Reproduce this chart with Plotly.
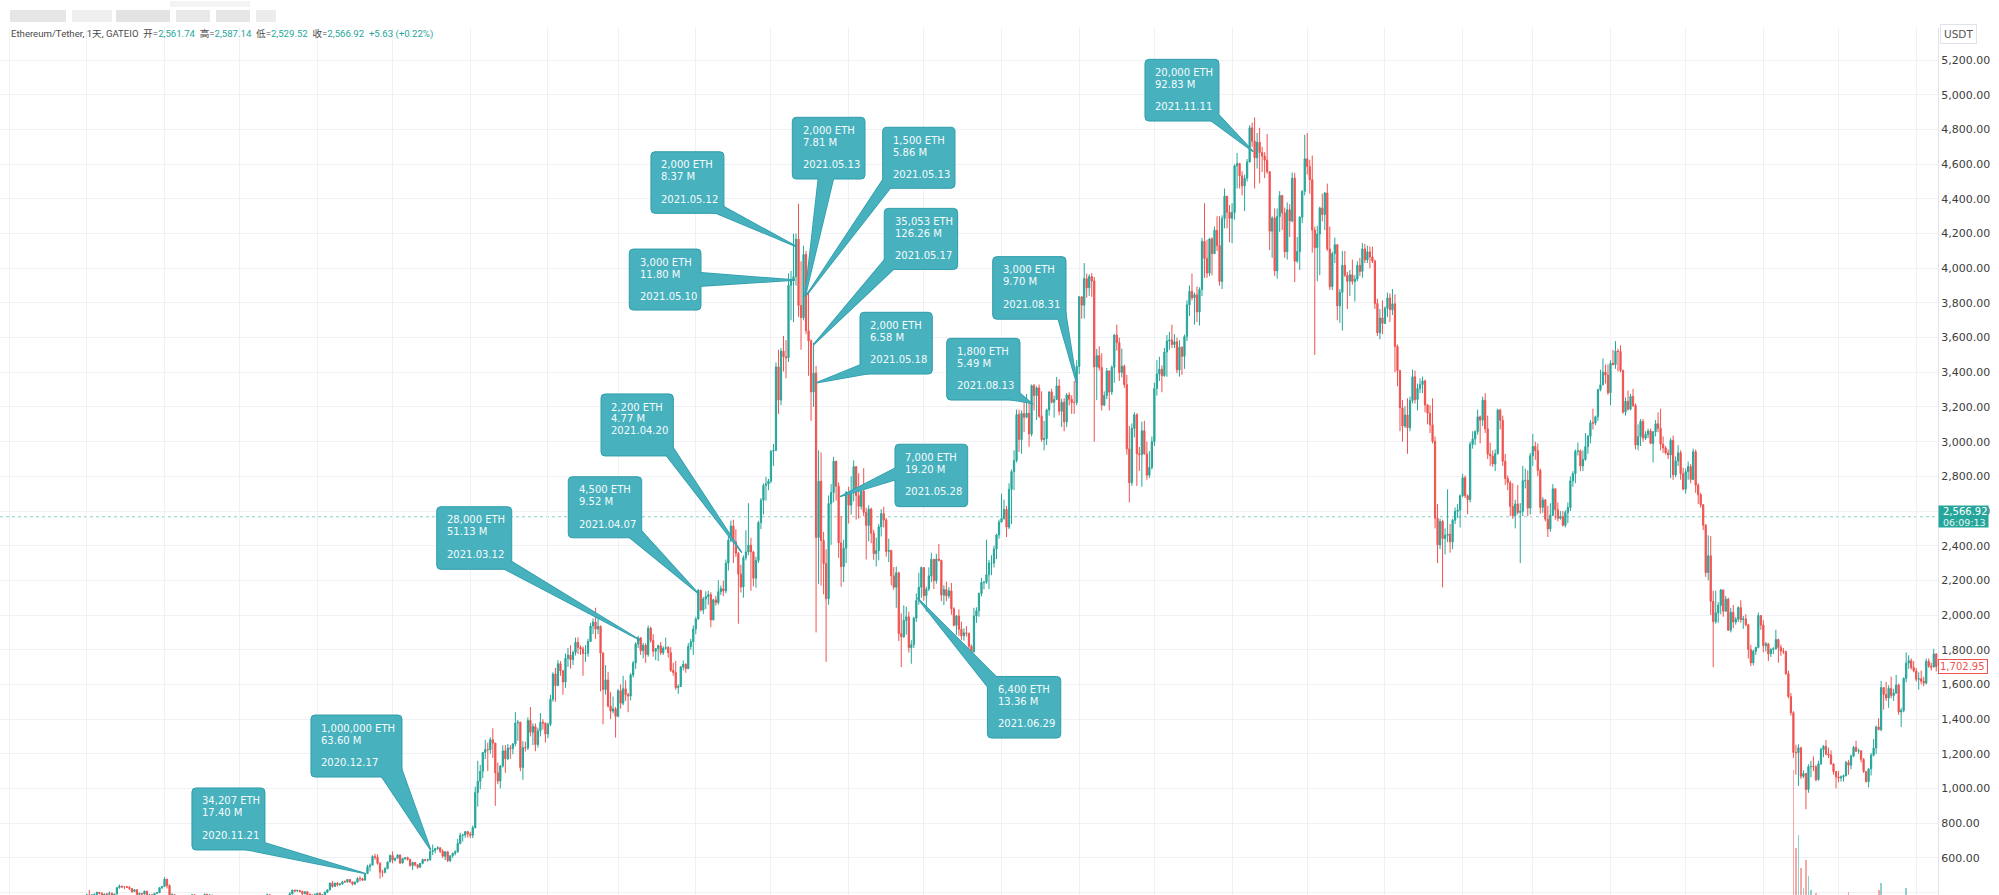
import pandas as pd
import plotly.graph_objects as go

# ============================ DATA ============================
# Daily ETH/USDT candles (GATEIO, 1D). Open = previous close.
FIRST_DAY = "2020-07-27"
FIRST_OPEN = 311

c_2020_07 = [321, 317, 318, 334, 345]
h_2020_07 = [330, 333, 327, 339, 349]
l_2020_07 = [307, 306, 311, 315, 330]

c_2020_08 = [386, 371, 386, 389, 401, 395, 379, 391, 390, 395, 378, 391, 428, 437, 433, 433, 430, 423, 406, 416, 389, 395, 391, 408, 382, 385, 382, 395, 399, 428, 435]
h_2020_08 = [393, 415, 391, 394, 404, 401, 401, 393, 396, 406, 401, 393, 432, 446, 439, 437, 438, 437, 425, 419, 419, 398, 397, 411, 409, 393, 392, 397, 402, 430, 436]
l_2020_08 = [344, 336, 369, 379, 381, 389, 367, 375, 383, 387, 368, 370, 389, 422, 426, 420, 428, 414, 398, 403, 386, 377, 383, 389, 376, 378, 373, 380, 394, 399, 420]

c_2020_09 = [477, 440, 385, 387, 335, 353, 353, 337, 351, 368, 374, 387, 365, 377, 364, 365, 389, 384, 385, 370, 341, 344, 321, 349, 351, 354, 357, 354, 360, 359]
h_2020_09 = [488, 478, 447, 395, 390, 355, 356, 357, 353, 373, 375, 389, 389, 381, 379, 372, 395, 393, 389, 386, 376, 346, 346, 352, 358, 357, 363, 364, 361, 362]
l_2020_09 = [434, 423, 370, 363, 308, 320, 330, 327, 335, 349, 359, 369, 357, 361, 361, 358, 363, 380, 378, 364, 335, 333, 316, 317, 341, 347, 347, 352, 350, 353]

c_2020_10 = [353, 346, 346, 352, 353, 340, 341, 351, 365, 371, 375, 387, 381, 379, 377, 366, 368, 377, 379, 368, 392, 414, 409, 412, 406, 393, 404, 388, 386, 383, 386]
h_2020_10 = [367, 355, 351, 355, 355, 355, 343, 354, 370, 378, 378, 394, 390, 386, 383, 381, 369, 379, 385, 380, 402, 416, 416, 416, 415, 410, 408, 409, 395, 387, 396]
l_2020_10 = [347, 334, 345, 344, 349, 336, 336, 337, 349, 365, 369, 371, 376, 371, 371, 361, 364, 366, 375, 366, 366, 390, 402, 404, 401, 381, 390, 381, 378, 373, 378]

c_2020_11 = [396, 383, 387, 401, 415, 454, 435, 454, 444, 449, 462, 461, 475, 461, 448, 460, 481, 479, 471, 509, 549, 558, 608, 603, 568, 517, 517, 538, 576, 614]
h_2020_11 = [397, 400, 390, 407, 419, 457, 467, 456, 460, 455, 468, 471, 477, 476, 462, 464, 488, 495, 485, 514, 560, 567, 615, 623, 620, 575, 531, 546, 578, 618]
l_2020_11 = [383, 379, 373, 382, 396, 412, 428, 432, 435, 441, 446, 456, 457, 456, 441, 445, 455, 463, 467, 471, 507, 522, 557, 589, 560, 480, 491, 510, 534, 575]

c_2020_12 = [587, 598, 616, 570, 596, 601, 591, 555, 573, 560, 546, 568, 590, 586, 589, 636, 642, 654, 658, 638, 609, 635, 584, 612, 626, 635, 683, 730, 731, 751, 737]
h_2020_12 = [637, 600, 622, 619, 597, 604, 607, 595, 577, 576, 561, 569, 595, 591, 595, 643, 676, 658, 667, 660, 649, 637, 637, 614, 630, 643, 710, 745, 739, 754, 755]
l_2020_12 = [568, 578, 595, 563, 567, 588, 584, 551, 530, 550, 536, 541, 563, 579, 578, 583, 616, 626, 645, 627, 600, 587, 575, 575, 600, 614, 629, 678, 694, 716, 717]

c_2021_01 = [730, 774, 977, 1041, 1099, 1208, 1225, 1224, 1281, 1262, 1090, 1043, 1130, 1217, 1171, 1233, 1230, 1257, 1377, 1382, 1121, 1235, 1233, 1392, 1324, 1357, 1253, 1332, 1382, 1377, 1314]
h_2021_01 = [749, 787, 1011, 1160, 1135, 1210, 1280, 1265, 1295, 1347, 1262, 1150, 1135, 1249, 1250, 1257, 1250, 1262, 1440, 1395, 1385, 1272, 1270, 1410, 1470, 1375, 1375, 1350, 1435, 1399, 1380]
l_2021_01 = [714, 714, 769, 895, 995, 1060, 1170, 1100, 1200, 1176, 900, 1025, 1000, 1120, 1090, 1163, 1170, 1197, 1243, 1275, 1100, 1050, 1213, 1222, 1300, 1250, 1215, 1235, 1300, 1340, 1265]

c_2021_02 = [1370, 1514, 1660, 1593, 1719, 1679, 1614, 1750, 1769, 1743, 1784, 1843, 1814, 1805, 1779, 1781, 1848, 1937, 1960, 1919, 1935, 1781, 1570, 1626, 1475, 1446, 1459, 1416]
h_2021_02 = [1380, 1540, 1670, 1695, 1740, 1735, 1680, 1778, 1810, 1826, 1795, 1870, 1872, 1825, 1819, 1826, 1863, 1954, 1980, 2042, 1985, 1940, 1785, 1711, 1673, 1555, 1530, 1470]
l_2021_02 = [1290, 1360, 1500, 1500, 1590, 1650, 1540, 1580, 1700, 1692, 1712, 1767, 1775, 1770, 1650, 1730, 1760, 1845, 1890, 1863, 1890, 1560, 1370, 1541, 1467, 1400, 1432, 1293]

c_2021_03 = [1564, 1492, 1575, 1541, 1533, 1655, 1724, 1834, 1869, 1795, 1826, 1772, 1924, 1854, 1791, 1806, 1823, 1782, 1809, 1812, 1783, 1681, 1669, 1582, 1588, 1701, 1716, 1691, 1819, 1846, 1919]
h_2021_03 = [1573, 1600, 1650, 1623, 1551, 1665, 1735, 1843, 1880, 1870, 1840, 1837, 1940, 1933, 1890, 1810, 1830, 1845, 1820, 1870, 1822, 1815, 1725, 1735, 1600, 1706, 1738, 1722, 1838, 1863, 1940]
l_2021_03 = [1411, 1460, 1480, 1505, 1440, 1508, 1640, 1690, 1810, 1770, 1750, 1725, 1760, 1840, 1760, 1740, 1735, 1770, 1770, 1800, 1755, 1672, 1650, 1570, 1545, 1588, 1680, 1667, 1688, 1800, 1770]

c_2021_04 = [1977, 2143, 2029, 2093, 2107, 2118, 1972, 2088, 2072, 2135, 2152, 2139, 2299, 2432, 2514, 2422, 2356, 2236, 2162, 2331, 2364, 2403, 2364, 2212, 2315, 2533, 2662, 2747, 2756, 2773]
h_2021_04 = [1990, 2150, 2145, 2105, 2137, 2140, 2132, 2095, 2111, 2200, 2170, 2199, 2320, 2470, 2545, 2550, 2495, 2365, 2290, 2344, 2489, 2645, 2446, 2370, 2337, 2543, 2675, 2760, 2797, 2785]
l_2021_04 = [1890, 1975, 2020, 2006, 2035, 2060, 1930, 1970, 2055, 2060, 2115, 2110, 2125, 2257, 2420, 2300, 2335, 1950, 2130, 2100, 2315, 2345, 2140, 2165, 2158, 2300, 2495, 2580, 2660, 2720]

c_2021_05 = [2945, 2950, 3431, 3240, 3522, 3490, 3484, 3902, 3928, 3952, 4168, 3785, 3715, 4079, 3640, 3581, 3287, 3395, 2447, 2772, 2430, 2297, 2094, 2643, 2707, 2887, 2743, 2417, 2279, 2385, 2707]
h_2021_05 = [2950, 2987, 3457, 3530, 3540, 3610, 3585, 3970, 3985, 4200, 4200, 4372, 4040, 4130, 4100, 3870, 3590, 3570, 3437, 2950, 2938, 2480, 2380, 2690, 2755, 2912, 2890, 2765, 2570, 2435, 2715]
l_2021_05 = [2760, 2860, 2945, 3160, 3210, 3405, 3365, 3460, 3700, 3690, 3900, 3720, 3530, 3700, 3620, 3380, 3120, 3200, 1900, 2180, 2170, 2120, 1730, 2060, 2405, 2650, 2660, 2330, 2163, 2190, 2300]

c_2021_06 = [2634, 2707, 2856, 2689, 2627, 2715, 2592, 2517, 2611, 2472, 2354, 2372, 2509, 2585, 2548, 2367, 2373, 2226, 2161, 2244, 1893, 1875, 1969, 1990, 1812, 1829, 1982, 2083, 2161, 2274]
h_2021_06 = [2740, 2801, 2892, 2858, 2818, 2745, 2847, 2619, 2633, 2620, 2492, 2447, 2526, 2611, 2625, 2560, 2441, 2374, 2277, 2280, 2250, 2010, 2056, 2048, 2020, 1855, 1990, 2125, 2244, 2280]
l_2021_06 = [2528, 2580, 2656, 2550, 2556, 2608, 2570, 2320, 2425, 2415, 2318, 2280, 2316, 2453, 2505, 2337, 2305, 2171, 2146, 2042, 1850, 1700, 1868, 1888, 1784, 1719, 1810, 1960, 2060, 2099]

c_2021_07 = [2112, 2150, 2226, 2322, 2198, 2323, 2316, 2115, 2147, 2110, 2140, 2036, 1941, 1995, 1918, 1880, 1897, 1895, 1820, 1787, 1995, 2025, 2124, 2188, 2190, 2233, 2300, 2300, 2381, 2462, 2536]
h_2021_07 = [2274, 2164, 2275, 2360, 2323, 2353, 2410, 2318, 2172, 2193, 2161, 2185, 2045, 2000, 2033, 1962, 1924, 1937, 1898, 1830, 2042, 2045, 2130, 2215, 2195, 2435, 2318, 2345, 2400, 2469, 2550]
l_2021_07 = [2083, 2020, 2138, 2189, 2150, 2182, 2309, 2080, 2057, 2080, 2095, 2002, 1935, 1885, 1880, 1857, 1853, 1876, 1800, 1718, 1785, 1955, 1990, 2108, 2148, 2180, 2150, 2230, 2275, 2323, 2440]

c_2021_08 = [2557, 2609, 2507, 2725, 2827, 2891, 3157, 3012, 3163, 3141, 3164, 3044, 3323, 3266, 3310, 3147, 3012, 3018, 3183, 3287, 3227, 3243, 3321, 3175, 3227, 3114, 3269, 3244, 3226, 3225, 3434]
h_2021_08 = [2700, 2666, 2630, 2760, 2840, 2950, 3185, 3185, 3180, 3230, 3275, 3230, 3330, 3333, 3320, 3330, 3290, 3120, 3190, 3290, 3305, 3265, 3373, 3360, 3247, 3250, 3280, 3285, 3267, 3350, 3470]
l_2021_08 = [2550, 2550, 2450, 2495, 2525, 2720, 2880, 2940, 2930, 3055, 3135, 2970, 3030, 3180, 3125, 3137, 3000, 2950, 2980, 3150, 3220, 3138, 3240, 3152, 3085, 3060, 3085, 3210, 3160, 3160, 3210]

c_2021_09 = [3835, 3787, 3940, 3887, 3952, 3927, 3431, 3496, 3427, 3211, 3266, 3408, 3286, 3429, 3615, 3571, 3399, 3435, 3329, 2959, 2763, 3077, 3155, 2931, 2925, 3063, 2930, 2807, 2851, 3000]
h_2021_09 = [3840, 3840, 4030, 3970, 3965, 3972, 3950, 3535, 3550, 3510, 3290, 3425, 3410, 3440, 3620, 3675, 3600, 3537, 3445, 3385, 3090, 3105, 3170, 3164, 2970, 3115, 3120, 3000, 2945, 3030]
l_2021_09 = [3390, 3710, 3710, 3830, 3840, 3835, 3000, 3240, 3410, 3180, 3205, 3245, 3180, 3270, 3340, 3525, 3350, 3370, 3310, 2925, 2650, 2745, 3025, 2745, 2830, 2740, 2925, 2780, 2790, 2840]

c_2021_10 = [3307, 3390, 3418, 3380, 3517, 3580, 3587, 3560, 3576, 3414, 3545, 3492, 3606, 3789, 3867, 3830, 3847, 3748, 3877, 4155, 4057, 3972, 4169, 4084, 4219, 4131, 3924, 4287, 4416, 4323, 4288]
h_2021_10 = [3340, 3470, 3490, 3440, 3540, 3615, 3633, 3675, 3620, 3600, 3585, 3550, 3618, 3815, 3900, 3970, 3860, 3895, 3890, 4175, 4375, 4165, 4175, 4180, 4240, 4300, 4300, 4305, 4460, 4415, 4365]
l_2021_10 = [2975, 3265, 3350, 3285, 3375, 3375, 3530, 3540, 3540, 3395, 3375, 3385, 3420, 3580, 3725, 3815, 3675, 3690, 3670, 3840, 3945, 3945, 3955, 3960, 4085, 4100, 3900, 3880, 4230, 4230, 4150]

c_2021_11 = [4322, 4591, 4604, 4533, 4475, 4519, 4613, 4810, 4733, 4637, 4727, 4667, 4647, 4623, 4557, 4214, 4290, 3985, 4298, 4420, 4320, 4095, 4337, 4273, 4520, 4041, 4096, 4294, 4444, 4631]
h_2021_11 = [4375, 4600, 4665, 4608, 4560, 4540, 4630, 4825, 4840, 4870, 4780, 4810, 4700, 4670, 4775, 4560, 4300, 4345, 4345, 4445, 4420, 4350, 4380, 4370, 4553, 4550, 4180, 4300, 4450, 4770]
l_2021_11 = [4145, 4280, 4460, 4460, 4420, 4330, 4500, 4610, 4700, 4460, 4575, 4490, 4555, 4520, 4545, 4105, 4060, 3955, 3940, 4210, 4220, 4060, 4050, 4180, 4265, 3920, 4030, 3990, 4260, 4420]

c_2021_12 = [4587, 4511, 4220, 4119, 4198, 4347, 4310, 4434, 4111, 3894, 4084, 4136, 3783, 3861, 4017, 3960, 3925, 3962, 3924, 3937, 4017, 3982, 4112, 4048, 4095, 4065, 4041, 3797, 3628, 3713, 3682]
h_2021_12 = [4780, 4625, 4650, 4240, 4245, 4355, 4430, 4440, 4488, 4240, 4095, 4177, 4140, 3880, 4100, 4100, 3980, 3990, 4050, 3960, 4040, 4060, 4145, 4140, 4130, 4125, 4125, 4050, 3825, 3765, 3815]
l_2021_12 = [4540, 4430, 4090, 3500, 3925, 3960, 4270, 4220, 4100, 3875, 3875, 4030, 3700, 3685, 3640, 3950, 3765, 3840, 3905, 3808, 3925, 3955, 3945, 4030, 4030, 4000, 4030, 3765, 3610, 3590, 3620]

c_2022_01 = [3769, 3829, 3761, 3795, 3549, 3410, 3195, 3090, 3154, 3080, 3237, 3374, 3243, 3306, 3330, 3350, 3212, 3164, 3097, 3002, 2559, 2405, 2540, 2441, 2460, 2466, 2422, 2547, 2598, 2606, 2688]
h_2022_01 = [3780, 3860, 3855, 3880, 3850, 3560, 3415, 3240, 3205, 3250, 3260, 3415, 3410, 3335, 3365, 3375, 3358, 3215, 3210, 3250, 3030, 2640, 2555, 2550, 2500, 2725, 2525, 2555, 2620, 2640, 2695]
l_2022_01 = [3680, 3720, 3690, 3730, 3400, 3320, 3060, 3000, 3080, 2930, 3060, 3220, 3220, 3180, 3280, 3280, 3170, 3100, 3050, 2990, 2500, 2300, 2380, 2160, 2350, 2420, 2360, 2380, 2525, 2560, 2505]

c_2022_02 = [2792, 2688, 2666, 2985, 3015, 3058, 3143, 3124, 3239, 3074, 2928, 2918, 2871, 2931, 3182, 3123, 2887, 2788, 2763, 2627, 2574, 2641, 2592, 2598, 2775, 2777, 2617, 2919]
h_2022_02 = [2815, 2805, 2695, 3000, 3060, 3065, 3185, 3150, 3260, 3280, 3150, 2995, 2950, 2955, 3190, 3190, 3150, 2930, 2805, 2775, 2760, 2665, 2750, 2645, 2860, 2845, 2835, 2935]
l_2022_02 = [2680, 2675, 2582, 2650, 2960, 2980, 3040, 2990, 3090, 3050, 2900, 2860, 2855, 2830, 2925, 3070, 2860, 2750, 2720, 2570, 2555, 2500, 2580, 2300, 2570, 2730, 2570, 2580]

c_2022_03 = [2972, 2948, 2834, 2621, 2664, 2553, 2497, 2576, 2728, 2608, 2558, 2568, 2518, 2591, 2620, 2774, 2815, 2945, 2947, 2860, 2897, 2971, 3031, 3109, 3107, 3143, 3300, 3328, 3401, 3384, 3282]
h_2022_03 = [3045, 3000, 2990, 2845, 2680, 2670, 2630, 2645, 2755, 2730, 2650, 2600, 2600, 2605, 2650, 2800, 2830, 2955, 2995, 2955, 2950, 3050, 3040, 3125, 3190, 3150, 3305, 3415, 3480, 3445, 3445]
l_2022_03 = [2860, 2895, 2800, 2585, 2590, 2540, 2450, 2480, 2570, 2550, 2540, 2550, 2510, 2505, 2530, 2600, 2740, 2760, 2920, 2830, 2830, 2890, 2930, 2990, 3070, 3095, 3120, 3290, 3325, 3335, 3270]

c_2022_04 = [3452, 3444, 3522, 3520, 3411, 3171, 3233, 3187, 3261, 3209, 2981, 3029, 3117, 3020, 3042, 3061, 2990, 3057, 3103, 3077, 2985, 2964, 2935, 2923, 3008, 2808, 2889, 2936, 2815, 2726]
h_2022_04 = [3470, 3530, 3580, 3535, 3555, 3415, 3255, 3295, 3275, 3305, 3220, 3100, 3130, 3130, 3060, 3075, 3075, 3060, 3125, 3170, 3190, 3030, 2975, 2955, 3020, 3035, 2915, 2980, 2950, 2850]
l_2022_04 = [3210, 3440, 3420, 3405, 3400, 3160, 3150, 3180, 3180, 3200, 2955, 2950, 2975, 3000, 3010, 3020, 2985, 2880, 3030, 3055, 2950, 2935, 2925, 2900, 2790, 2780, 2795, 2860, 2780, 2720]

c_2022_05 = [2827, 2857, 2782, 2942, 2749, 2694, 2636, 2518, 2245, 2342, 2079, 1962, 2013, 2056, 2145, 2022, 2091, 1913, 2016, 1960, 1976, 2043, 1973, 1978, 1944, 1802, 1725, 1792, 1813, 1997, 1942]
h_2022_05 = [2845, 2885, 2870, 2960, 2955, 2760, 2705, 2640, 2525, 2460, 2455, 2140, 2140, 2075, 2150, 2145, 2110, 2100, 2040, 2058, 1990, 2050, 2085, 1995, 2005, 1950, 1828, 1800, 1818, 2015, 2000]
l_2022_05 = [2700, 2780, 2760, 2780, 2705, 2640, 2620, 2490, 2220, 2200, 2000, 1700, 1950, 1955, 2005, 1990, 2020, 1908, 1900, 1925, 1945, 1960, 1955, 1920, 1935, 1750, 1705, 1710, 1770, 1808, 1915]

c_2022_06 = [1823, 1834, 1776, 1802, 1806, 1859, 1813, 1793, 1789, 1662, 1530, 1437, 1208, 1207, 1235, 1070, 1086, 994, 1126, 1127, 1124, 1051, 1143, 1224, 1243, 1199, 1193, 1141, 1098, 1067]
h_2022_06 = [1970, 1845, 1840, 1808, 1815, 1915, 1864, 1830, 1810, 1795, 1680, 1550, 1445, 1252, 1255, 1240, 1105, 1090, 1140, 1160, 1185, 1135, 1160, 1235, 1250, 1280, 1235, 1220, 1145, 1100]
l_2022_06 = [1785, 1790, 1735, 1758, 1775, 1800, 1725, 1765, 1775, 1655, 1520, 1420, 1175, 1080, 1015, 1055, 1060, 880, 975, 1065, 1100, 1040, 1045, 1135, 1180, 1190, 1175, 1137, 1080, 1000]

c_2022_07 = [1060, 1067, 1074, 1150, 1134, 1187, 1237, 1215, 1217, 1168, 1098, 1039, 1113, 1192, 1233, 1355, 1339, 1582, 1542, 1521, 1577, 1536, 1550, 1597, 1441, 1450, 1635, 1723, 1737, 1697, 1678]
h_2022_07 = [1100, 1075, 1080, 1160, 1165, 1195, 1245, 1275, 1230, 1220, 1175, 1100, 1115, 1205, 1285, 1363, 1405, 1620, 1585, 1615, 1595, 1645, 1575, 1655, 1605, 1465, 1640, 1785, 1768, 1750, 1735]
l_2022_07 = [1035, 1040, 1040, 1070, 1080, 1110, 1180, 1210, 1200, 1150, 1090, 1035, 1006, 1075, 1185, 1200, 1335, 1330, 1455, 1505, 1465, 1520, 1505, 1545, 1425, 1355, 1440, 1612, 1690, 1685, 1670]

c_2022_08 = [1630, 1633, 1618, 1608, 1734, 1706, 1700, 1776, 1703]
h_2022_08 = [1695, 1670, 1680, 1645, 1750, 1750, 1725, 1805, 1780]
l_2022_08 = [1617, 1570, 1600, 1590, 1600, 1695, 1680, 1700, 1675]

# Volume bars that reach into the visible part of the chart (thousand ETH)
vol_days = ["2022-06-13", "2022-06-14", "2022-06-15", "2022-06-16", "2022-06-17", "2022-06-18",
            "2022-06-19", "2022-06-20", "2022-06-22", "2022-07-05", "2022-07-17", "2022-07-18", "2022-07-28"]
vol_k = [1080, 407, 519, 234, 61, 303, 164, 43, 17, 26, 43, 104, 61]

# Whale-transfer callouts
cl_amount = ["34,207 ETH", "1,000,000 ETH", "28,000 ETH", "4,500 ETH", "2,200 ETH", "3,000 ETH",
             "2,000 ETH", "2,000 ETH", "1,500 ETH", "35,053 ETH", "2,000 ETH", "7,000 ETH",
             "6,400 ETH", "1,800 ETH", "3,000 ETH", "20,000 ETH"]
cl_usd = ["17.40 M", "63.60 M", "51.13 M", "9.52 M", "4.77 M", "11.80 M", "8.37 M", "7.81 M",
          "5.86 M", "126.26 M", "6.58 M", "19.20 M", "13.36 M", "5.49 M", "9.70 M", "92.83 M"]
cl_date = ["2020.11.21", "2020.12.17", "2021.03.12", "2021.04.07", "2021.04.20", "2021.05.10",
           "2021.05.12", "2021.05.13", "2021.05.13", "2021.05.17", "2021.05.18", "2021.05.28",
           "2021.06.29", "2021.08.13", "2021.08.31", "2021.11.11"]
cl_blank_line = [True, True, True, True, False, True, True, True, True, True, True, True, True, True, True, True]
cl_tip_time = ["2020-11-19 17:00", "2020-12-16 05:00", "2021-03-09 18:00", "2021-04-02 00:00",
               "2021-04-19 08:00", "2021-05-10 14:00", "2021-05-11 06:00", "2021-05-14 14:00",
               "2021-05-15 06:00", "2021-05-17 21:00", "2021-05-19 06:00", "2021-05-28 13:00",
               "2021-06-28 11:00", "2021-08-13 01:00", "2021-08-31 00:00", "2021-11-09 11:00"]
cl_tip_price = [511, 645, 1856, 2125, 2360, 3932, 4124, 3836, 3846, 3557, 3340, 2683, 2098, 3221, 3337, 4672]

# Header / price labels
SYMBOL = "Ethereum/Tether, 1天, GATEIO"
ohlc_labels = ["开", "高", "低", "收"]
ohlc_values = ["2,561.74", "2,587.14", "2,529.52", "2,566.92"]
change_text = "+5.63 (+0.22%)"
last_price = 2566.92
countdown = "06:09:13"
marker_price = 1702.95

# ============================ LAYOUT CONSTANTS ============================
W, H = 1999, 895
PL, PR, PT, PB = 0, 1938, 28, 895          # plot area in pixels
Y_RANGE = [385.6, 5385.6]
DAY0 = pd.Timestamp("2020-11-21")
PX_PER_DAY = 2.506
X_DAY0 = 367.5

UP = "#26a69a"
DN = "#ef5350"
GRID = "#eff1f4"
BOX_FILL = "#47b1be"
BOX_LINE = "#2f9dab"
BOX_TEXT = "#f6fcfd"
UI_FONT = "DejaVu Sans, Verdana, sans-serif"

# callout geometry in reference pixels: tip, box (x0,y0,x1,y1), tail exits e1, e2
CALLOUT_GEOM = [
    ((364.3, 873.3), (192, 788, 265, 850), (265, 843), (248, 850)),
    ((430.7, 850.0), (311, 715, 402, 777), (402, 770), (382, 777)),
    ((640.0, 640.0), (436.7, 506.7, 511.7, 569.3), (511.7, 561.7), (505, 569.3)),
    ((698.3, 593.3), (568.3, 476.7, 641.7, 537.7), (641.7, 531), (630, 537.7)),
    ((741.7, 552.7), (601, 394, 673.3, 456), (673.3, 448), (666.7, 456)),
    ((795.0, 280.0), (629.3, 249, 701, 310), (701, 272.7), (701, 286)),
    ((796.7, 246.7), (651, 151.7, 724, 213.3), (724, 206.7), (716.7, 213.3)),
    ((805.0, 296.7), (792.3, 117.3, 865, 179), (818.3, 179), (833.3, 179)),
    ((806.7, 295.0), (882.7, 127.3, 955, 188.3), (882.7, 180), (890, 188.3)),
    ((813.3, 345.0), (884.3, 208.3, 957.7, 269.3), (884.3, 260), (893.3, 269.3)),
    ((816.7, 382.7), (860, 312.3, 932.3, 374), (860, 365), (866, 374)),
    ((840.0, 496.7), (895, 444.3, 967.7, 506.7), (895, 468.3), (895, 480)),
    ((920.0, 598.3), (990, 676.7, 1063.3, 738.3), (998.3, 676.7), (990, 686.7)),
    ((1031.7, 403.3), (946.7, 338.3, 1020, 400), (1020, 393.3), (1013.3, 400)),
    ((1076.7, 383.3), (992.7, 256.7, 1066, 319.3), (1058.3, 319.3), (1066, 315)),
    ((1253.3, 151.7), (1145, 59.3, 1219, 121), (1211.7, 121), (1219, 115)),
]

# ============================ BUILD SERIES ============================
closes = (c_2020_07 + c_2020_08 + c_2020_09 + c_2020_10 + c_2020_11 + c_2020_12 +
          c_2021_01 + c_2021_02 + c_2021_03 + c_2021_04 + c_2021_05 + c_2021_06 +
          c_2021_07 + c_2021_08 + c_2021_09 + c_2021_10 + c_2021_11 + c_2021_12 +
          c_2022_01 + c_2022_02 + c_2022_03 + c_2022_04 + c_2022_05 + c_2022_06 +
          c_2022_07 + c_2022_08)
highs = (h_2020_07 + h_2020_08 + h_2020_09 + h_2020_10 + h_2020_11 + h_2020_12 +
         h_2021_01 + h_2021_02 + h_2021_03 + h_2021_04 + h_2021_05 + h_2021_06 +
         h_2021_07 + h_2021_08 + h_2021_09 + h_2021_10 + h_2021_11 + h_2021_12 +
         h_2022_01 + h_2022_02 + h_2022_03 + h_2022_04 + h_2022_05 + h_2022_06 +
         h_2022_07 + h_2022_08)
lows = (l_2020_07 + l_2020_08 + l_2020_09 + l_2020_10 + l_2020_11 + l_2020_12 +
        l_2021_01 + l_2021_02 + l_2021_03 + l_2021_04 + l_2021_05 + l_2021_06 +
        l_2021_07 + l_2021_08 + l_2021_09 + l_2021_10 + l_2021_11 + l_2021_12 +
        l_2022_01 + l_2022_02 + l_2022_03 + l_2022_04 + l_2022_05 + l_2022_06 +
        l_2022_07 + l_2022_08)
opens = [FIRST_OPEN] + closes[:-1]
highs = [max(h, o, c) for h, o, c in zip(highs, opens, closes)]
lows = [min(l, o, c) for l, o, c in zip(lows, opens, closes)]
dates = pd.date_range(FIRST_DAY, periods=len(closes), freq="D")

df = pd.DataFrame({"open": opens, "high": highs, "low": lows, "close": closes}, index=dates)
vol_colors = []
for d in vol_days:
    row = df.loc[pd.Timestamp(d)]
    vol_colors.append("rgba(38,166,154,0.5)" if row["close"] >= row["open"] else "rgba(239,83,80,0.5)")

x_start = DAY0 - pd.Timedelta(days=(X_DAY0 - PL) / PX_PER_DAY)
x_end = DAY0 + pd.Timedelta(days=(PR - X_DAY0) / PX_PER_DAY)

# ============================ FIGURE ============================
fig = go.Figure()
fig.add_trace(go.Bar(x=vol_days, y=vol_k, marker=dict(color=vol_colors, line=dict(width=0)),
                     width=86400000 * 0.7, yaxis="y2", hoverinfo="skip", showlegend=False))
fig.add_trace(go.Candlestick(
    x=dates, open=opens, high=highs, low=lows, close=closes,
    increasing=dict(line=dict(color=UP, width=1), fillcolor=UP),
    decreasing=dict(line=dict(color=DN, width=1), fillcolor=DN),
    whiskerwidth=0, showlegend=False, hoverinfo="skip"))


def px2paper_x(px):
    return (px - PL) / (PR - PL)


def px2paper_y(py):
    return 1 - (py - PT) / (PB - PT)


shapes = []
annotations = []

# last-price dotted line
shapes.append(dict(type="line", xref="paper", x0=0, x1=1, yref="y", y0=last_price, y1=last_price,
                   line=dict(color="rgba(38,166,154,0.55)", width=1, dash="dot"), layer="below"))

# blurred header block (unreadable in the reference)
BLUR_BLOCKS = [(10, 10, 66, 22, "#dddddd"), (72, 10, 112, 22, "#e8e8e8"), (116, 10, 170, 22, "#dadada"),
               (176, 10, 210, 22, "#e0e0e0"), (216, 10, 250, 22, "#dddddd"), (256, 10, 276, 22, "#e6e6e6"),
               (170, 1, 250, 7, "#f0f0f0")]
for x0, y0, x1, y1, col in BLUR_BLOCKS:
    shapes.append(dict(type="rect", xref="paper", yref="paper",
                       x0=px2paper_x(x0), x1=px2paper_x(x1), y0=px2paper_y(y1), y1=px2paper_y(y0),
                       fillcolor=col, line=dict(width=0), layer="above", opacity=0.75))


def P(x, y):
    return f"{x:.2f},{-y:.2f}"


def rounded_rect_path(x0, y0, x1, y1, r=4):
    return (f"M {P(x0 + r, y0)} L {P(x1 - r, y0)} Q {P(x1, y0)} {P(x1, y0 + r)} "
            f"L {P(x1, y1 - r)} Q {P(x1, y1)} {P(x1 - r, y1)} L {P(x0 + r, y1)} "
            f"Q {P(x0, y1)} {P(x0, y1 - r)} L {P(x0, y0 + r)} Q {P(x0, y0)} {P(x0 + r, y0)} Z")


LINE_OFFS_4 = [13.0, 25.0, 47.5]
LINE_OFFS_3 = [13.3, 25.0, 36.7]
TEXT_PAD_X = 8.3

for i, geom in enumerate(CALLOUT_GEOM):
    (tx, ty), (bx0, by0, bx1, by1), e1, e2 = geom
    rel = lambda px, py: (px - tx, py - ty)
    rb = [rel(bx0, by0), rel(bx1, by1)]
    bases = []
    for ex, ey in (e1, e2):
        vx, vy = ex - tx, ey - ty
        n = (vx * vx + vy * vy) ** 0.5
        bases.append(rel(ex + vx / n * 9, ey + vy / n * 9))
    tail = f"M {P(0, 0)} L {P(*bases[0])} L {P(*bases[1])} Z"
    box = rounded_rect_path(rb[0][0], rb[0][1], rb[1][0], rb[1][1], 4)
    common = dict(type="path", xref="x", yref="y", xsizemode="pixel", ysizemode="pixel",
                  xanchor=cl_tip_time[i], yanchor=cl_tip_price[i], layer="above")
    shapes.append(dict(common, path=tail, fillcolor=BOX_FILL, line=dict(color=BOX_LINE, width=1.5)))
    shapes.append(dict(common, path=box, fillcolor=BOX_FILL, line=dict(color=BOX_LINE, width=1)))
    shapes.append(dict(common, path=tail, fillcolor=BOX_FILL, line=dict(width=0)))

    lines = [cl_amount[i], cl_usd[i], cl_date[i]]
    offs = LINE_OFFS_4 if cl_blank_line[i] else LINE_OFFS_3
    for txt, oy in zip(lines, offs):
        annotations.append(dict(
            x=cl_tip_time[i], y=cl_tip_price[i], xref="x", yref="y", showarrow=False,
            text=txt, xanchor="left", yanchor="middle",
            xshift=(bx0 + TEXT_PAD_X) - tx, yshift=-((by0 + oy) - ty),
            font=dict(family="DejaVu Sans", size=10, color=BOX_TEXT)))

# Header legend line
parts = [f'<span style="color:#4a4a4a">{SYMBOL}</span>']
for lab, val in zip(ohlc_labels, ohlc_values):
    parts.append(f'<span style="color:#4a4a4a">{lab}=</span><span style="color:{UP}">{val}</span>')
parts.append(f'<span style="color:{UP}">{change_text}</span>')
header = "\u00a0\u00a0".join(parts)
annotations.append(dict(x=px2paper_x(9), y=px2paper_y(34), xref="paper", yref="paper", showarrow=False,
                        text=header, xanchor="left", yanchor="middle",
                        font=dict(family="Roboto, 'Noto Sans CJK SC', sans-serif", size=9.6, color="#4a4a4a")))

# axis unit label
annotations.append(dict(x=px2paper_x(1940), y=px2paper_y(34), xref="paper", yref="paper", showarrow=False,
                        text="USDT", xanchor="left", yanchor="middle", bgcolor="#ffffff",
                        bordercolor="#e0e3eb", borderwidth=1, borderpad=3,
                        font=dict(family=UI_FONT, size=10.5, color="#555555")))

# last price label with countdown (box + two text lines)
annotations.append(dict(x=1.0, y=last_price, xref="paper", yref="y", showarrow=False,
                        text="\u00a0", xanchor="left", yanchor="middle", bgcolor=UP,
                        width=49, height=21, borderpad=0, font=dict(family=UI_FONT, size=10)))
annotations.append(dict(x=1.0, y=last_price, xref="paper", yref="y", showarrow=False,
                        text=f"{last_price:,.2f}", xanchor="left", yanchor="middle", xshift=3, yshift=5,
                        font=dict(family=UI_FONT, size=10, color="#ffffff")))
annotations.append(dict(x=1.0, y=last_price, xref="paper", yref="y", showarrow=False,
                        text=countdown, xanchor="left", yanchor="middle", xshift=3, yshift=-6,
                        font=dict(family=UI_FONT, size=9.5, color="#e3f5f3")))

# marker price label
annotations.append(dict(x=1.0, y=marker_price, xref="paper", yref="y", showarrow=False,
                        text=f"{marker_price:,.2f}", xanchor="left", yanchor="middle", align="left",
                        bgcolor="#ffffff", bordercolor=DN, borderwidth=1, width=46, borderpad=1,
                        font=dict(family=UI_FONT, size=10, color=DN)))

fig.update_layout(
    width=W, height=H, autosize=False,
    margin=dict(l=PL, r=W - PR, t=PT, b=H - PB, pad=0),
    paper_bgcolor="#ffffff", plot_bgcolor="#ffffff",
    showlegend=False, bargap=0,
    xaxis=dict(type="date", range=[x_start, x_end], showgrid=True, gridcolor=GRID, gridwidth=1,
               dtick="M1", tick0="2020-01-01", showticklabels=False, ticks="", zeroline=False,
               showline=False, rangeslider=dict(visible=False), fixedrange=True),
    yaxis=dict(side="right", range=Y_RANGE, tick0=0, dtick=200, tickformat=",.2f",
               showgrid=True, gridcolor=GRID, gridwidth=1, zeroline=False,
               showline=True, linecolor="#e0e3eb", linewidth=1, ticks="",
               tickfont=dict(family=UI_FONT, size=11, color="#3c3c3c"), fixedrange=True),
    yaxis2=dict(overlaying="y", range=[0, 7500], visible=False, fixedrange=True),
    shapes=shapes, annotations=annotations,
)

fig.write_html("out.html", config={"displayModeBar": False},
               post_script="document.body.style.margin='0px';document.body.style.overflow='hidden';")
